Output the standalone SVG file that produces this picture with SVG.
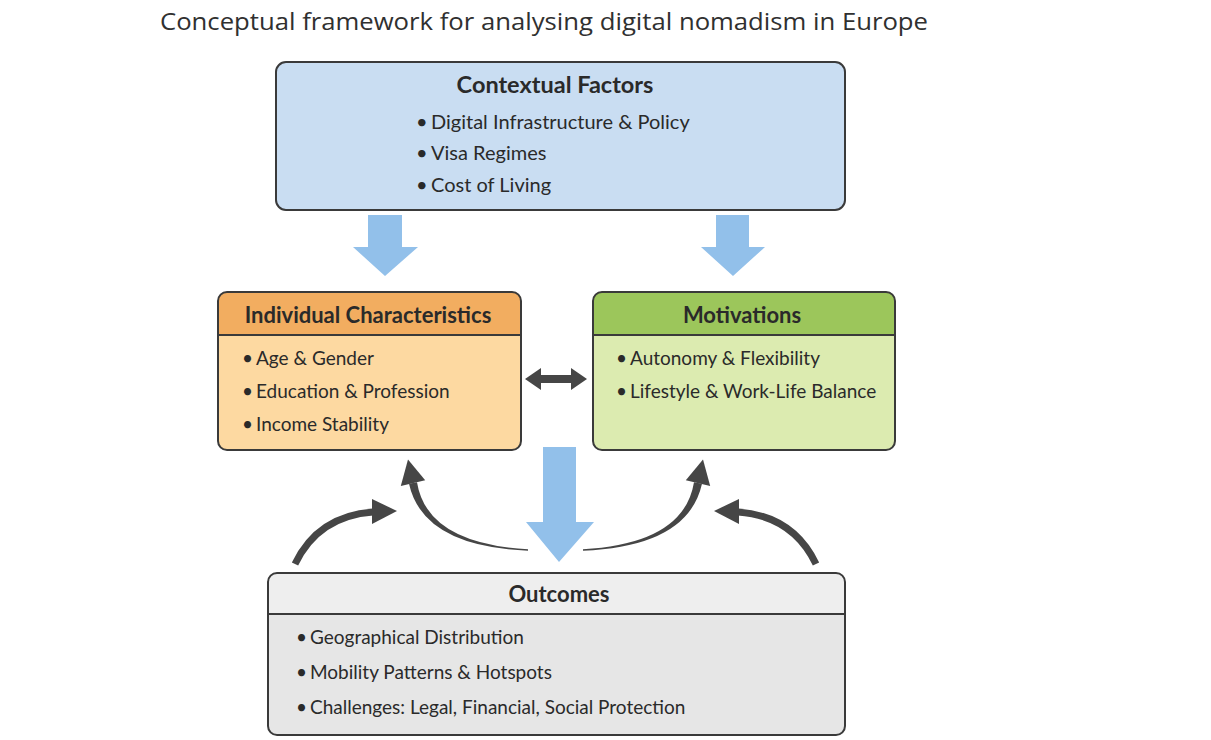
<svg xmlns="http://www.w3.org/2000/svg" xmlns:xlink="http://www.w3.org/1999/xlink" width="1211" height="740" viewBox="0 0 1211 740">
  <style>
    text { font-family: Lato, "Open Sans", "Liberation Sans", sans-serif; fill: #2a2a2a; }
    .title { font-family: "Open Sans", Lato, "Liberation Sans", sans-serif; font-size: 24px; fill: #303030; }
    .head { font-size: 22px; font-weight: bold; text-anchor: middle; }
    .item { font-size: 19px; }
    .big { font-size: 20px; }
    .frame { fill: none; stroke: #3a3a3a; stroke-width: 2; }
    .sep { stroke: #3a3a3a; stroke-width: 2; }
    .flow { fill: #92c0ea; }
    .dark { fill: #464646; }
    .darkline { fill: none; stroke: #464646; stroke-width: 7; }
  </style>
  <defs>
    <!-- pair of feedback arrows on the left half; mirrored for the right -->
    <g id="feedback-left">
      <path class="darkline" d="M295,564 Q318,516 373,512"/>
      <polygon class="dark" points="372,499 397,511 372,524"/>
      <path class="dark" d="M528,549.3 Q427,543.5 417,482.2 L409,483.8 Q423,546.5 528,550.7 Z"/>
      <polygon class="dark" points="400.8,486 408,459.5 425.2,480.2"/>
    </g>
  </defs>

  <rect width="1211" height="740" fill="#ffffff"/>

  <text class="title" x="160" y="30" textLength="768" lengthAdjust="spacingAndGlyphs">Conceptual framework for analysing digital nomadism in Europe</text>

  <!-- Contextual factors -->
  <g id="contextual">
    <rect x="276" y="62" width="569" height="148" rx="10" fill="#c9ddf2"/>
    <rect class="frame" x="276" y="62" width="569" height="148" rx="10"/>
    <text class="head" x="555" y="93" style="font-size:23.5px">Contextual Factors</text>
    <text class="item big" y="129"><tspan x="416">•</tspan><tspan x="431">Digital Infrastructure &amp; Policy</tspan></text>
    <text class="item big" y="160"><tspan x="416">•</tspan><tspan x="431">Visa Regimes</tspan></text>
    <text class="item big" y="192"><tspan x="416">•</tspan><tspan x="431">Cost of Living</tspan></text>
  </g>

  <!-- Individual characteristics -->
  <g id="individual">
    <rect x="218" y="292" width="303" height="158" rx="9" fill="#fdd9a1"/>
    <path d="M218,335 V301 Q218,292 227,292 H512 Q521,292 521,301 V335 Z" fill="#f2ad60"/>
    <line class="sep" x1="218" y1="335" x2="521" y2="335"/>
    <rect class="frame" x="218" y="292" width="303" height="158" rx="9"/>
    <text class="head" x="368" y="323">Individual Characteristics</text>
    <text class="item" y="365"><tspan x="242">•</tspan><tspan x="256">Age &amp; Gender</tspan></text>
    <text class="item" y="398"><tspan x="242">•</tspan><tspan x="256">Education &amp; Profession</tspan></text>
    <text class="item" y="431"><tspan x="242">•</tspan><tspan x="256">Income Stability</tspan></text>
  </g>

  <!-- Motivations -->
  <g id="motivations">
    <rect x="593" y="292" width="302" height="158" rx="9" fill="#dcebb0"/>
    <path d="M593,335 V301 Q593,292 602,292 H886 Q895,292 895,301 V335 Z" fill="#9cc65b"/>
    <line class="sep" x1="593" y1="335" x2="895" y2="335"/>
    <rect class="frame" x="593" y="292" width="302" height="158" rx="9"/>
    <text class="head" x="742" y="323">Motivations</text>
    <text class="item" y="365"><tspan x="616">•</tspan><tspan x="630">Autonomy &amp; Flexibility</tspan></text>
    <text class="item" y="398"><tspan x="616">•</tspan><tspan x="630">Lifestyle &amp; Work-Life Balance</tspan></text>
  </g>

  <!-- Outcomes -->
  <g id="outcomes">
    <rect x="268" y="573" width="577" height="162" rx="9" fill="#e6e6e6"/>
    <path d="M268,614 V582 Q268,573 277,573 H836 Q845,573 845,582 V614 Z" fill="#eeeeee"/>
    <line class="sep" x1="268" y1="614" x2="845" y2="614"/>
    <rect class="frame" x="268" y="573" width="577" height="162" rx="9"/>
    <text class="head" x="559" y="602">Outcomes</text>
    <text class="item" y="644"><tspan x="296">•</tspan><tspan x="310">Geographical Distribution</tspan></text>
    <text class="item" y="679"><tspan x="296">•</tspan><tspan x="310">Mobility Patterns &amp; Hotspots</tspan></text>
    <text class="item" y="714"><tspan x="296">•</tspan><tspan x="310">Challenges: Legal, Financial, Social Protection</tspan></text>
  </g>

  <!-- Connectors -->
  <g id="connectors">
    <polygon class="flow" points="368,215 402,215 402,247 418,247 385,276 353,247 368,247"/>
    <polygon class="flow" points="716,215 749,215 749,247 765,247 733,276 701,247 716,247"/>
    <polygon class="flow" points="543,447 576,447 576,522 594,522 559,562 526,522 543,522"/>
    <polygon class="dark" points="525,379 541,368 541,375 571,375 571,368 587,379 571,390 571,383 541,383 541,390"/>
    <use xlink:href="#feedback-left"/>
    <use xlink:href="#feedback-left" transform="matrix(-1 0 0 1 1111 0)"/>
  </g>
</svg>
